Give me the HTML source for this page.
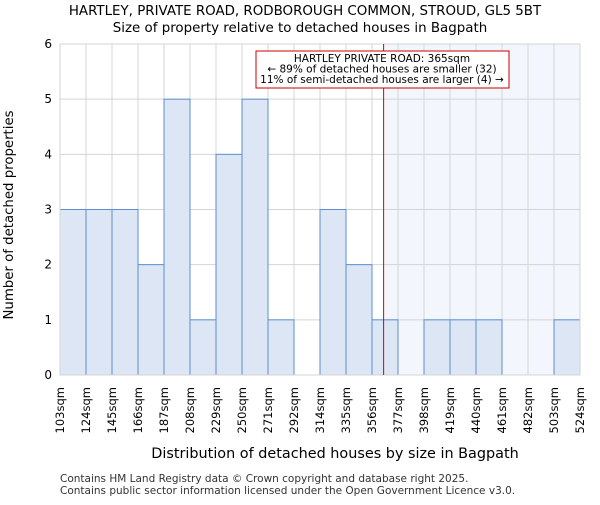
<!DOCTYPE html>
<html><head><meta charset="utf-8"><style>body{margin:0;background:#fff}svg{font-family:"DejaVu Sans","Liberation Sans",sans-serif}</style></head>
<body>
<svg id="chart" width="600" height="500">
<text x="305" y="15" text-anchor="middle" font-size="13.4">HARTLEY, PRIVATE ROAD, RODBOROUGH COMMON, STROUD, GL5 5BT</text>
<text x="300" y="32" text-anchor="middle" font-size="13.4">Size of property relative to detached houses in Bagpath</text>
<g id="plot"></g>
<text x="335" y="458" text-anchor="middle" font-size="14.4">Distribution of detached houses by size in Bagpath</text>
<text transform="translate(13,215) rotate(-90)" text-anchor="middle" font-size="13.3">Number of detached properties</text>
<text x="60" y="482" font-size="10.5" fill="#333">Contains HM Land Registry data © Crown copyright and database right 2025.</text>
<text x="60" y="494" font-size="10.5" fill="#333">Contains public sector information licensed under the Open Government Licence v3.0.</text>
</svg>
<script>
const edgeLabels=["103sqm","124sqm","145sqm","166sqm","187sqm","208sqm","229sqm","250sqm","271sqm","292sqm","314sqm","335sqm","356sqm","377sqm","398sqm","419sqm","440sqm","461sqm","482sqm","503sqm","524sqm"];
const counts=[3,3,3,2,5,1,4,5,1,0,3,2,1,0,1,1,1,0,0,1];
const yTicks=[0,1,2,3,4,5,6];
const minSize=103, maxSize=524, subjectSize=365;
const L=60,R=580,T=44,B=375,yMax=6;
const NS="http://www.w3.org/2000/svg";
const g=document.getElementById('plot');
const n=counts.length;
const xb=i=>L+(R-L)*i/n;
const xs=v=>L+(R-L)*(v-minSize)/(maxSize-minSize);
const y=v=>B-(B-T)*v/yMax;
function mk(t,a,p){const e=document.createElementNS(NS,t);for(const k in a)e.setAttribute(k,a[k]);(p||g).appendChild(e);return e;}
const sx=xs(subjectSize);
const sh=mk('rect',{x:sx,y:T,width:R-sx,height:B-T,fill:'#f3f6fd'});


yTicks.forEach(t=>{const l=mk('line',{x1:L,x2:R,y1:y(t),y2:y(t),stroke:'#d4d4d4'});


const tx=mk('text',{x:L-8,y:y(t)+4,'text-anchor':'end','font-size':12});tx.textContent=t;

});
edgeLabels.forEach((lb,i)=>{const l=mk('line',{x1:xb(i),x2:xb(i),y1:T,y2:B,stroke:'#d4d4d4'});


const tx=mk('text',{transform:`translate(${xb(i)+4},${B+12}) rotate(-90)`,'text-anchor':'end','font-size':11.5});tx.textContent=lb;

});
counts.forEach((c,i)=>{if(!c)return;const r=mk('rect',{x:xb(i),y:y(c),width:xb(i+1)-xb(i),height:B-y(c),fill:'#dce6f4',stroke:'#5b8fd0','stroke-width':1});

});
const ax=mk('rect',{x:L,y:T,width:R-L,height:B-T,fill:'none',stroke:'#d4d4d4'});


const rl=mk('line',{x1:sx,x2:sx,y1:T,y2:B,stroke:'#dd0000','stroke-width':1});


const box=mk('rect',{x:256,y:51,width:253,height:37,fill:'#fff',stroke:'#cc0000'});


["HARTLEY PRIVATE ROAD: 365sqm","← 89% of detached houses are smaller (32)","11% of semi-detached houses are larger (4) →"].forEach((s,i)=>{const t=mk('text',{x:382,y:62+i*10.5,'text-anchor':'middle','font-size':10.5});t.textContent=s;

});
</script>
</body></html>
